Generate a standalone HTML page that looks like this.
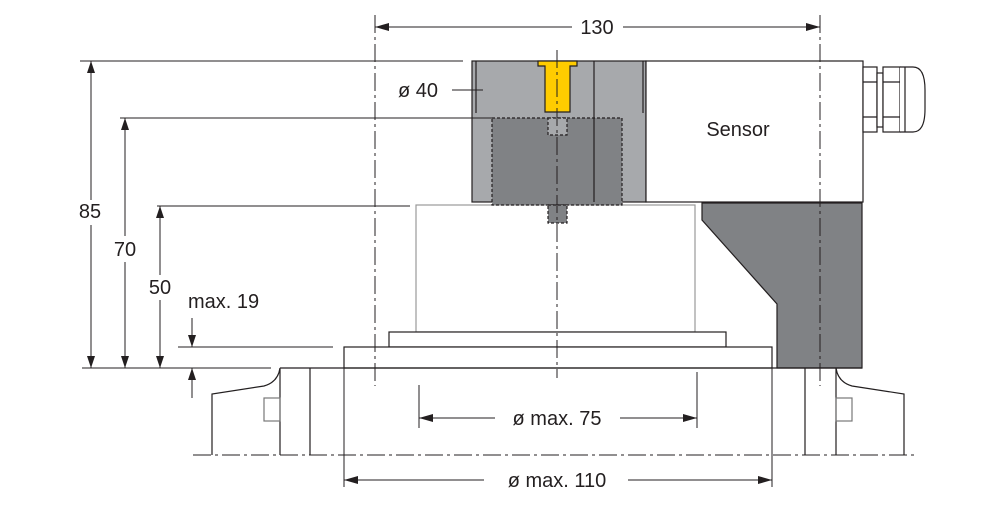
<!DOCTYPE html>
<html><head><meta charset="utf-8"><style>
html,body{margin:0;padding:0;background:#fff;}
svg{display:block;}
text{font-family:"Liberation Sans",sans-serif;fill:#231f20;}
</style></head><body>
<svg width="999" height="513" viewBox="0 0 999 513" xmlns="http://www.w3.org/2000/svg">
<g stroke="#231f20" stroke-width="1.2" fill="none">
<rect x="416" y="205" width="279" height="127" stroke="#999" fill="#fff"/>
<rect x="389" y="332" width="337" height="15" fill="#fff"/>
<rect x="344" y="347" width="428" height="21" fill="#fff"/>
<path d="M702,203 L862,203 L862,368 L777,368 L777,304 L702,220 Z" fill="#808285"/>
<rect x="472" y="61" width="174" height="141" fill="#a7a9ac"/>
<rect x="492" y="118" width="130" height="87" fill="#808285" stroke-dasharray="3,2"/>
<rect x="548" y="118" width="19" height="17" fill="#a7a9ac" stroke-dasharray="3,2"/>
<rect x="548" y="205" width="19" height="18" fill="#808285" stroke-dasharray="3,2"/>
<line x1="594" y1="61" x2="594" y2="202"/>
<path d="M476,61 V113 M643,61 V113"/>
<path d="M538,61 H577 V66 H570 V112 H545 V66 H538 Z" fill="#ffcc00"/>
<rect x="646" y="61" width="217" height="141" fill="#fff"/>
<rect x="863" y="67" width="14" height="65" fill="#fff"/>
<path d="M863,82 H877 M863,117 H877"/>
<rect x="877" y="73" width="6" height="54" fill="#fff"/>
<rect x="883" y="67" width="17" height="65" fill="#fff"/>
<path d="M883,82 H900 M883,117 H900"/>
<path d="M900,67 H905 V132 H900 M905,67 H913 Q925,67 925,90 V109 Q925,132 913,132 H905" fill="#fff"/>
<g stroke-dasharray="18,4,3,4" stroke-width="1">
<line x1="375" y1="15" x2="375" y2="386"/>
<line x1="820" y1="15" x2="820" y2="386"/>
<line x1="557" y1="50" x2="557" y2="378"/>
<line x1="193" y1="455" x2="918" y2="455"/>
</g>
<line x1="80" y1="61" x2="463" y2="61" stroke-width="1"/>
<line x1="120" y1="118" x2="492" y2="118" stroke-width="1"/>
<line x1="157" y1="206" x2="410" y2="206" stroke-width="1"/>
<line x1="178" y1="347" x2="333" y2="347" stroke-width="1"/>
<line x1="82" y1="368" x2="271" y2="368" stroke-width="1"/>
<line x1="280" y1="368" x2="862" y2="368"/>
<line x1="91" y1="61" x2="91" y2="200" stroke-width="1"/>
<line x1="91" y1="225" x2="91" y2="368" stroke-width="1"/>
<path d="M91,61 l-4,12 h8z M91,368 l-4,-12 h8z M125,118 l-4,12 h8z M125,368 l-4,-12 h8z M160,206 l-4,12 h8z M160,368 l-4,-12 h8z M192,347 l-4,-12 h8z M192,368 l-4,12 h8z" fill="#231f20" stroke="none"/>
<line x1="125" y1="118" x2="125" y2="236" stroke-width="1"/>
<line x1="125" y1="262" x2="125" y2="368" stroke-width="1"/>
<line x1="160" y1="206" x2="160" y2="275" stroke-width="1"/>
<line x1="160" y1="300" x2="160" y2="368" stroke-width="1"/>
<line x1="192" y1="318" x2="192" y2="347" stroke-width="1"/>
<line x1="192" y1="368" x2="192" y2="398" stroke-width="1"/>
<line x1="375" y1="27" x2="572" y2="27" stroke-width="1"/>
<line x1="623" y1="27" x2="820" y2="27" stroke-width="1"/>
<path d="M375,27 l14,-4 v8z M820,27 l-14,-4 v8z" fill="#231f20" stroke="none"/>
<line x1="452" y1="90" x2="483" y2="90" stroke-width="1"/>
<path d="M212,455 V394 L264,386 Q278,382 280,368 V455 M310,368 V455"/>
<rect x="264" y="398" width="16" height="23" stroke="#777"/>
<path d="M904,455 V394 L852,386 Q838,382 836,368 V455 M805,368 V455" />
<rect x="836" y="398" width="16" height="23" stroke="#777"/>
<path d="M419,385 V428 M697,372 V428 M344,368 V487 M772,368 V487" stroke-width="1"/>
<line x1="419" y1="418" x2="495" y2="418" stroke-width="1"/>
<line x1="620" y1="418" x2="697" y2="418" stroke-width="1"/>
<line x1="344" y1="480" x2="484" y2="480" stroke-width="1"/>
<line x1="628" y1="480" x2="772" y2="480" stroke-width="1"/>
<path d="M419,418 l14,-4 v8z M697,418 l-14,-4 v8z M344,480 l14,-4 v8z M772,480 l-14,-4 v8z" fill="#231f20" stroke="none"/>
</g>
<g font-size="20">
<text x="597" y="34" text-anchor="middle">130</text>
<text x="398" y="97">ø 40</text>
<text x="738" y="136" text-anchor="middle">Sensor</text>
<text x="90" y="218" text-anchor="middle">85</text>
<text x="125" y="256" text-anchor="middle">70</text>
<text x="160" y="294" text-anchor="middle">50</text>
<text x="188" y="308">max. 19</text>
<text x="557" y="425" text-anchor="middle">ø max. 75</text>
<text x="557" y="487" text-anchor="middle">ø max. 110</text>
</g>
</svg>
</body></html>
